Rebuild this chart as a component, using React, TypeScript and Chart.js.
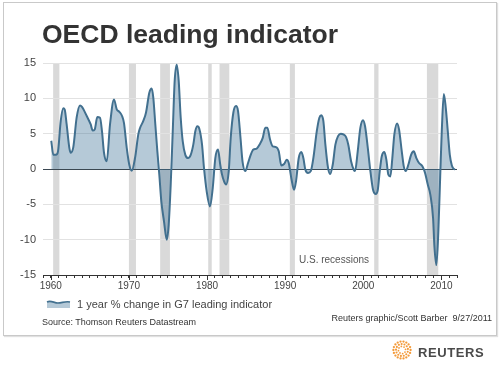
import React, { useEffect, useRef } from "react";
import { Chart, registerables } from "chart.js";

Chart.register(...registerables);

const FONT = "'Liberation Sans', Arial, Helvetica, sans-serif";

// Decimal years of each reading
const years = [
  1960.06, 1960.32, 1960.66, 1960.92, 1961.27, 1961.6, 1961.78, 1962.03, 1962.37, 1962.55,
  1962.88, 1963.31, 1963.74, 1963.99, 1964.6, 1965.11, 1965.36, 1965.62, 1965.95, 1966.3,
  1966.55, 1966.81, 1967.16, 1967.58, 1968.09, 1968.44, 1968.77, 1969.12, 1969.37, 1969.72,
  1970.05, 1970.36, 1970.78, 1971.2, 1971.42, 1971.84, 1972.19, 1972.61, 1972.92, 1973.12,
  1973.38, 1973.64, 1973.89, 1974.15, 1974.49, 1974.84, 1975.09, 1975.35, 1975.61, 1975.86,
  1976.12, 1976.37, 1976.63, 1976.89, 1977.22, 1977.57, 1977.91, 1978.24, 1978.5, 1978.76,
  1979.01, 1979.36, 1979.61, 1979.96, 1980.38, 1980.73, 1981.06, 1981.41, 1981.66, 1981.92,
  1982.18, 1982.43, 1982.78, 1983.03, 1983.37, 1983.71, 1983.97, 1984.27, 1984.55, 1984.9,
  1985.25, 1985.59, 1985.93, 1986.36, 1986.78, 1987.13, 1987.46, 1987.72, 1988.06, 1988.41,
  1988.83, 1989.18, 1989.51, 1989.86, 1990.2, 1990.46, 1990.79, 1991.14, 1991.39, 1991.74,
  1992.07, 1992.33, 1992.59, 1992.93, 1993.28, 1993.61, 1994.05, 1994.38, 1994.63, 1994.89,
  1995.15, 1995.49, 1995.75, 1996.09, 1996.43, 1996.77, 1997.12, 1997.45, 1997.8, 1998.09,
  1998.44, 1998.78, 1998.95, 1999.29, 1999.63, 1999.97, 2000.23, 2000.58, 2000.91, 2001.25,
  2001.6, 2001.86, 2002.11, 2002.37, 2002.7, 2002.96, 2003.21, 2003.47, 2003.72, 2003.98,
  2004.33, 2004.58, 2004.93, 2005.18, 2005.44, 2005.77, 2006.12, 2006.46, 2006.8, 2007.14,
  2007.57, 2007.91, 2008.26, 2008.59, 2008.94, 2009.1, 2009.36, 2009.61, 2009.87, 2010.05,
  2010.31, 2010.56, 2010.82, 2011.08, 2011.34, 2011.59, 2011.75,
];

// 1 year % change in G7 leading indicator
const values = [
  4.0, 2.0, 2.0, 2.5, 6.8, 8.6, 8.4, 6.3, 3.0, 2.3,
  3.1, 7.3, 9.0, 8.8, 7.5, 6.3, 5.45, 5.6, 7.35, 7.25,
  5.35, 2.3, 1.1, 6.3, 9.85, 8.45, 8.1, 7.5, 6.5, 3.0,
  0.6, -0.25, 1.55, 4.9, 5.8, 6.8, 8.0, 10.8, 11.4, 10.1,
  6.3, 2.5, -0.8, -4.6, -7.4, -10.0, -7.9, -2.2, 5.35, 12.5,
  14.75, 12.5, 7.25, 3.9, 2.0, 1.55, 2.0, 3.45, 5.35, 6.05,
  5.7, 3.45, 0.15, -3.2, -5.3, -2.7, 1.55, 2.75, 0.85, -0.8,
  -1.75, -2.2, -0.3, 4.4, 8.0, 8.9, 8.2, 4.6, 1.0, -0.3,
  0.85, 2.0, 2.75, 2.9, 3.55, 4.4, 5.85, 5.85, 4.2, 3.2,
  3.1, 2.5, 0.5, 0.7, 1.3, 0.85, -1.3, -2.95, -1.75, 1.55,
  2.4, 1.55, -0.1, -0.55, -0.3, 1.55, 5.35, 7.25, 7.6, 6.8,
  3.45, 0.15, -0.7, 0.6, 3.45, 4.65, 5.0, 4.9, 4.5, 3.4,
  1.1, -0.1, -0.3, 2.5, 5.85, 6.9, 6.05, 3.0, -0.3, -2.95,
  -3.55, -2.95, -0.3, 1.8, 2.4, 1.3, -0.8, -1.05, 1.55, 4.9,
  6.45, 5.6, 2.5, 0.4, -0.3, 0.6, 2.0, 2.5, 1.55, 0.85,
  0.4, -0.55, -2.2, -3.65, -7.0, -10.8, -13.6, -8.9, -0.3, 5.35,
  10.6, 8.7, 5.35, 2.0, 0.5, 0.0, -0.05,
];

// U.S. recessions (shaded bands)
const recessionStart = [1960.3, 1970.0, 1974.0, 1980.15, 1981.6, 1990.6, 2001.4, 2008.15];
const recessionEnd = [1961.1, 1970.9, 1975.25, 1980.6, 1982.85, 1991.25, 2001.95, 2009.6];

const decadeTicks = [1960, 1970, 1980, 1990, 2000, 2010];
const X_MIN = 1959;
const X_MAX = 2012;
const Y_MIN = -15;
const Y_MAX = 15;
const Y_STEP = 5;

const SERIES_LABEL = "1 year % change in G7 leading indicator";

const recessionPlugin = {
  id: "recessionBands",
  beforeDraw(chart: any) {
    const { ctx, chartArea, scales } = chart;
    const xs = scales.x;
    ctx.save();
    ctx.fillStyle = "#d9d9d9";
    recessionStart.forEach((s, i) => {
      const x0 = xs.getPixelForValue(s);
      const x1 = xs.getPixelForValue(recessionEnd[i]);
      ctx.fillRect(x0, chartArea.top, x1 - x0, chartArea.bottom - chartArea.top);
    });
    ctx.restore();
  },
  afterDraw(chart: any) {
    const { ctx, chartArea, scales } = chart;
    ctx.save();
    ctx.strokeStyle = "#333";
    ctx.lineWidth = 1;
    decadeTicks.forEach((d) => {
      const px = Math.round(scales.x.getPixelForValue(d)) + 0.5;
      ctx.beginPath();
      ctx.moveTo(px, chartArea.bottom);
      ctx.lineTo(px, chartArea.bottom + 5);
      ctx.stroke();
    });
    ctx.restore();
  },
};

function ReutersLogo() {
  const dots: any[] = [];
  const rings = [
    { r: 8.6, n: 18, d: 1.15 },
    { r: 6.0, n: 13, d: 1.05 },
    { r: 3.6, n: 8, d: 0.9 },
  ];
  rings.forEach((ring, ri) => {
    for (let k = 0; k < ring.n; k++) {
      const a = (k / ring.n) * Math.PI * 2 + ri * 0.3;
      dots.push(
        <circle
          key={ri + "-" + k}
          cx={11 + ring.r * Math.cos(a)}
          cy={11 + ring.r * Math.sin(a)}
          r={ring.d}
          fill="#f39a3a"
        />
      );
    }
  });
  return (
    <svg width={22} height={22} style={{ position: "absolute", left: 391, top: 339 }}>
      {dots}
    </svg>
  );
}

export default function App() {
  const canvasRef = useRef<HTMLCanvasElement | null>(null);

  useEffect(() => {
    if (!canvasRef.current) return;
    const chart = new Chart(canvasRef.current, {
      type: "line",
      data: {
        datasets: [
          {
            label: SERIES_LABEL,
            data: years.map((yr, i) => ({ x: yr, y: values[i] })),
            borderColor: "#42708f",
            borderWidth: 2,
            backgroundColor: "rgba(70,120,155,0.4)",
            fill: "origin",
            pointRadius: 0,
            cubicInterpolationMode: "monotone",
          } as any,
        ],
      },
      options: {
        responsive: false,
        animation: false,
        events: [],
        layout: { padding: { left: 0, right: 43, top: 63, bottom: 66 } },
        plugins: {
          legend: { display: false },
          tooltip: { enabled: false },
          title: { display: false },
        },
        scales: {
          x: {
            type: "linear",
            min: X_MIN,
            max: X_MAX,
            afterBuildTicks: (scale: any) => {
              const t: any[] = [];
              for (let v = X_MIN; v <= X_MAX; v++) t.push({ value: v });
              scale.ticks = t;
            },
            afterFit: (scale: any) => {
              scale.height = 25;
            },
            ticks: {
              autoSkip: false,
              maxRotation: 0,
              padding: 2,
              color: "#444",
              font: { family: FONT, size: 10 },
              callback: (v: any) => (Number(v) % 10 === 0 ? String(v) : ""),
            },
            grid: { drawOnChartArea: false, drawTicks: true, tickLength: 3, color: "#333" },
            border: { display: true, color: "#333", width: 1 },
          },
          y: {
            min: Y_MIN,
            max: Y_MAX,
            afterFit: (scale: any) => {
              scale.width = 43;
            },
            ticks: {
              stepSize: Y_STEP,
              padding: 7,
              color: "#444",
              font: { family: FONT, size: 11 },
            },
            grid: {
              drawTicks: false,
              color: (ctx: any) =>
                ctx.tick && ctx.tick.value === 0
                  ? "#3b4852"
                  : ctx.tick && ctx.tick.value === Y_MIN
                  ? "#333"
                  : "#e2e2e2",
            },
            border: { display: false },
          },
        },
      },
      plugins: [recessionPlugin],
    });
    return () => chart.destroy();
  }, []);

  const abs = (o: any) => ({ position: "absolute" as const, whiteSpace: "pre" as const, fontFamily: FONT, ...o });

  return (
    <div style={{ position: "absolute", left: 0, top: 0, width: 500, height: 366, background: "#fff", overflow: "hidden" }}>
      <div
        style={{
          position: "absolute",
          left: 3,
          top: 2,
          width: 494,
          height: 334,
          boxSizing: "border-box",
          border: "1px solid #c9c9c9",
          boxShadow: "1px 1px 1px #e0e0e0",
        }}
      />
      <canvas
        ref={canvasRef}
        width={500}
        height={366}
        style={{ position: "absolute", left: 0, top: 0, width: 500, height: 366 }}
      />
      <div style={abs({ left: 42, top: 20, fontSize: 26.5, fontWeight: "bold", lineHeight: "28px", color: "#333" })}>
        OECD leading indicator
      </div>
      <div style={abs({ left: 299, top: 253.5, fontSize: 10, lineHeight: "12px", color: "#555" })}>
        U.S. recessions
      </div>
      <svg width={26} height={12} style={{ position: "absolute", left: 46, top: 298 }}>
        <path d="M1 4 C5 2 8 5 12 5 C16 5 19 3 24 4 L24 10 L1 10 Z" fill="rgba(70,120,155,0.4)" />
        <path d="M1 4 C5 2 8 5 12 5 C16 5 19 3 24 4" fill="none" stroke="#42708f" strokeWidth={1.6} />
      </svg>
      <div style={abs({ left: 77, top: 298, fontSize: 11, lineHeight: "13px", color: "#444" })}>
        {SERIES_LABEL}
      </div>
      <div style={abs({ left: 42, top: 316.5, fontSize: 9, lineHeight: "11px", color: "#333" })}>
        Source: Thomson Reuters Datastream
      </div>
      <div style={abs({ right: 8, top: 313.3, fontSize: 9, lineHeight: "11px", color: "#333" })}>
        {"Reuters graphic/Scott Barber  9/27/2011"}
      </div>
      <ReutersLogo />
      <div style={abs({ left: 418, top: 345.3, fontSize: 13, fontWeight: "bold", lineHeight: "15px", letterSpacing: "0.6px", color: "#4a4a4a" })}>
        REUTERS
      </div>
    </div>
  );
}
